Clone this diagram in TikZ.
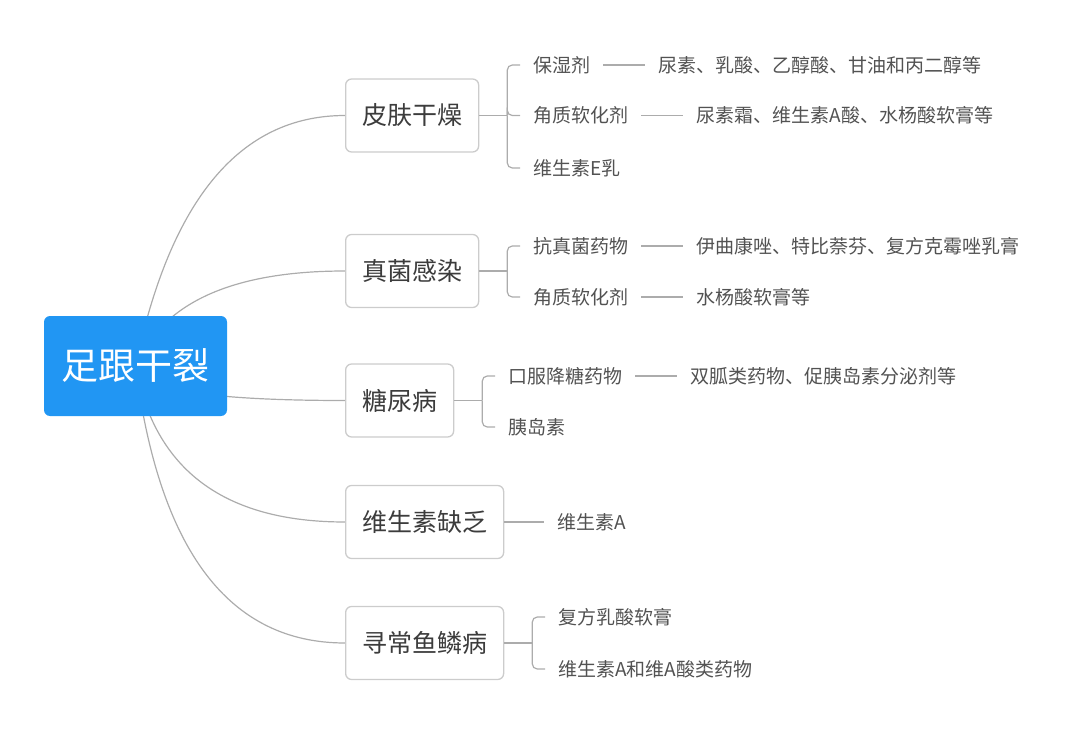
\documentclass[tikz,border=0pt]{standalone}
\usepackage{fontspec}
\setmainfont{Noto Sans CJK SC}
\usetikzlibrary{positioning,calc,backgrounds}
\definecolor{rootblue}{RGB}{33,150,243}
\definecolor{linegray}{RGB}{172,172,172}
\definecolor{boxgray}{RGB}{204,204,204}
\definecolor{topicgray}{RGB}{60,60,60}
\definecolor{leafgray}{RGB}{82,82,82}
\tikzset{
  rootbox/.style={fill=rootblue, rounded corners=6pt, minimum width=183pt,
    minimum height=100pt, inner sep=0pt, text=white,
    font=\fontsize{37}{44}\selectfont},
  topicbox/.style={draw=boxgray, line width=1.3pt, fill=white,
    rounded corners=6pt, minimum height=73pt, inner xsep=16.5pt,
    anchor=west, text=topicgray, font=\fontsize{25}{30}\selectfont},
  leaf/.style={inner xsep=13pt, inner ysep=2pt, anchor=west,
    text=leafgray, font=\fontsize{19}{23}\selectfont},
  link/.style={draw=linegray, line width=1.2pt},
}
\begin{document}
\begin{tikzpicture}[x=1pt,y=-1pt]
  \useasboundingbox (0,0) rectangle (1080,733);

  \node [rootbox] (root) at (135.5,366) {足跟干裂};

  \node [topicbox] (pf) at (345,115.5) {皮肤干燥};
  \node [topicbox] (zj) at (345,271)   {真菌感染};
  \node [topicbox] (tn) at (345,400.5) {糖尿病};
  \node [topicbox] (ws) at (345,522)   {维生素缺乏};
  \node [topicbox] (xc) at (345,643)   {寻常鱼鳞病};

  \begin{scope}[on background layer]
    \foreach \t/\cx in {pf/188,zj/176,tn/137,ws/164,xc/171}
    {
      \coordinate (k\t) at (\t.west -| \cx,0);
      \draw [link] (root.center)
        .. controls ($(root.center)!2/3!(k\t)$) and ($(\t.west)!2/3!(k\t)$)
        .. (\t.west);
    }
  \end{scope}

  % skin
  \node [leaf] (pf1) at (520,65)    {保湿剂};
  \node [leaf] (pf2) at (520,115.5) {角质软化剂};
  \node [leaf] (pf3) at (520,168)   {维生素E乳};
  \node [leaf, right=42pt of pf1] (pf1a) {尿素、乳酸、乙醇酸、甘油和丙二醇等};
  \node [leaf, right=42pt of pf2] (pf2a) {尿素霜、维生素A酸、水杨酸软膏等};

  % fungus
  \node [leaf] (zj1) at (520,246) {抗真菌药物};
  \node [leaf] (zj2) at (520,297) {角质软化剂};
  \node [leaf, right=42pt of zj1] (zj1a) {伊曲康唑、特比萘芬、复方克霉唑乳膏};
  \node [leaf, right=42pt of zj2] (zj2a) {水杨酸软膏等};

  % diabetes
  \node [leaf] (tn1) at (495,376) {口服降糖药物};
  \node [leaf] (tn2) at (495,427) {胰岛素};
  \node [leaf, right=42pt of tn1] (tn1a) {双胍类药物、促胰岛素分泌剂等};

  % vitamin
  \node [leaf] (ws1) at (544,522) {维生素A};

  % ichthyosis
  \node [leaf] (xc1) at (545,617) {复方乳酸软膏};
  \node [leaf] (xc2) at (545,669) {维生素A和维A酸类药物};

  \foreach \t/\kids in {pf/{pf1,pf2,pf3},zj/{zj1,zj2},tn/{tn1,tn2},xc/{xc1,xc2}}
  {
    \coordinate (\t j) at ([xshift=28pt]\t.east);
    \draw [link] (\t.east) -- (\t j);
    \foreach \l in \kids
      \draw [link,rounded corners=5pt] (\t j) |- (\l.west);
  }
  \draw [link] (ws) -- (ws1);

  \foreach \a/\b in {pf1/pf1a,pf2/pf2a,zj1/zj1a,zj2/zj2a,tn1/tn1a}
    \draw [link] (\a) -- (\b);

\end{tikzpicture}
\end{document}
